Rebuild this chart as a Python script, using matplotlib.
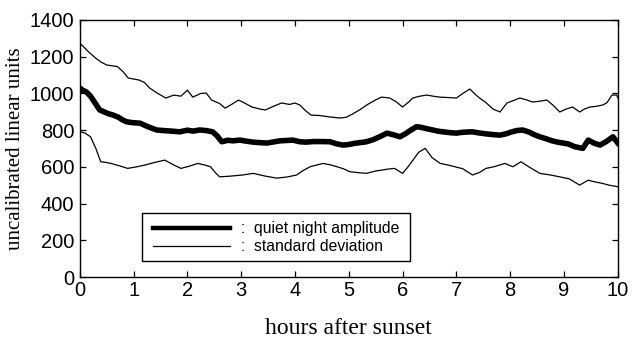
import matplotlib
matplotlib.use("Agg")
import matplotlib.pyplot as plt
from matplotlib.patches import Rectangle

# amplitude values (hours after sunset, uncalibrated units)
mean_hours = [0.0, 0.05, 0.12, 0.2, 0.28, 0.37, 0.45, 0.53, 0.62, 0.72, 0.8, 0.87, 0.95, 1.03,
              1.12, 1.22, 1.3, 1.43, 1.55, 1.7, 1.86, 2.0, 2.1, 2.23, 2.35, 2.47, 2.55, 2.64,
              2.75, 2.85, 2.97, 3.1, 3.22, 3.35, 3.48, 3.6, 3.72, 3.85, 3.96, 4.09, 4.2, 4.35,
              4.5, 4.65, 4.78, 4.89, 5.0, 5.1, 5.2, 5.33, 5.45, 5.58, 5.71, 5.83, 5.95, 6.05,
              6.15, 6.26, 6.35, 6.45, 6.56, 6.65, 6.78, 6.9, 7.0, 7.1, 7.2, 7.3, 7.42, 7.55,
              7.68, 7.81, 7.92, 8.02, 8.12, 8.23, 8.35, 8.45, 8.55, 8.65, 8.78, 8.88, 8.98,
              9.08, 9.2, 9.35, 9.45, 9.57, 9.67, 9.78, 9.91, 10.0]
mean_vals = [1030, 1018, 1009, 985, 950, 910, 900, 890, 882, 870, 855, 846, 842, 840,
             838, 825, 815, 801, 798, 795, 791, 800, 795, 801, 798, 791, 770, 737,
             745, 742, 746, 740, 735, 732, 730, 736, 742, 744, 746, 737, 735, 738,
             738, 737, 725, 719, 722, 728, 732, 737, 748, 765, 784, 775, 764, 780,
             800, 819, 815, 808, 801, 795, 790, 786, 784, 788, 790, 791, 785, 780,
             776, 773, 780, 790, 798, 801, 790, 775, 764, 755, 742, 735, 730,
             725, 710, 701, 746, 728, 719, 737, 764, 730]

upper_hours = [0.0, 0.05, 0.15, 0.3, 0.4, 0.5, 0.7, 0.8, 0.9, 1.1, 1.2, 1.3, 1.45, 1.6,
               1.75, 1.88, 2.0, 2.1, 2.25, 2.35, 2.45, 2.6, 2.7, 2.82, 2.95, 3.05, 3.2,
               3.35, 3.45, 3.6, 3.75, 3.9, 4.0, 4.09, 4.2, 4.3, 4.45, 4.65, 4.83, 4.95,
               5.05, 5.2, 5.35, 5.5, 5.61, 5.76, 5.88, 6.0, 6.1, 6.19, 6.32, 6.45, 6.57,
               6.69, 6.82, 7.0, 7.12, 7.25, 7.35, 7.43, 7.55, 7.68, 7.81, 7.94, 8.05, 8.18,
               8.3, 8.42, 8.55, 8.68, 8.8, 8.92, 9.04, 9.16, 9.29, 9.38, 9.48, 9.6, 9.72,
               9.8, 9.89, 9.98, 10.0]
upper_vals = [1273, 1260, 1230, 1191, 1170, 1155, 1146, 1120, 1084, 1073, 1060, 1029, 1000, 975,
              991, 985, 1018, 980, 1000, 1002, 964, 945, 920, 940, 964, 950, 926,
              915, 910, 930, 948, 940, 948, 937, 905, 882, 880, 872, 866, 870,
              885, 910, 940, 965, 980, 975, 955, 926, 950, 975, 985, 991, 985,
              980, 978, 975, 1000, 1024, 995, 975, 950, 915, 899, 948, 960, 975,
              965, 953, 958, 964, 935, 899, 915, 926, 899, 915, 926, 930, 937,
              950, 991, 991, 975]

lower_hours = [0.0, 0.02, 0.1, 0.2, 0.3, 0.39, 0.48, 0.58, 0.75, 0.89, 1.05, 1.21, 1.4,
               1.58, 1.75, 1.88, 2.05, 2.19, 2.3, 2.43, 2.53, 2.6, 2.8, 3.03, 3.22, 3.45,
               3.66, 3.85, 4.03, 4.15, 4.28, 4.4, 4.52, 4.65, 4.78, 4.9, 5.02, 5.2, 5.33,
               5.5, 5.62, 5.72, 5.85, 6.0, 6.1, 6.2, 6.3, 6.42, 6.55, 6.7, 6.85, 6.97, 7.12,
               7.3, 7.43, 7.55, 7.7, 7.9, 8.05, 8.2, 8.35, 8.55, 8.75, 8.92, 9.1, 9.29, 9.45,
               9.55, 9.72, 9.85, 10.0]
lower_vals = [801, 791, 784, 764, 700, 628, 625, 619, 605, 592, 600, 610, 625,
              637, 610, 592, 605, 619, 612, 601, 566, 546, 550, 556, 565, 550,
              539, 545, 556, 580, 601, 610, 619, 612, 601, 590, 574, 568, 565,
              578, 583, 588, 592, 565, 600, 640, 680, 701, 650, 619, 610, 601, 590,
              556, 570, 592, 601, 619, 601, 628, 600, 565, 556, 546, 535, 501, 528,
              520, 510, 500, 492]

plt.rcParams['font.family'] = ['Liberation Sans', 'DejaVu Sans']

fig = plt.figure(figsize=(6.33, 3.38), dpi=100)
ax = fig.add_axes([0.126, 0.180, 0.850, 0.761])

ax.plot(mean_hours, mean_vals, color='black', linewidth=4.0,
        label=':  quiet night amplitude')
ax.plot(upper_hours, upper_vals, color='black', linewidth=0.9,
        label=':  standard deviation')
ax.plot(lower_hours, lower_vals, color='black', linewidth=0.9)

ax.set_xlim(0, 10)
ax.set_ylim(0, 1400)
ax.set_xticks(range(0, 11))
ax.set_yticks(range(0, 1401, 200))
ax.tick_params(direction='in', top=True, right=True, length=4, width=0.9,
               labelsize=14.5)
ax.tick_params(axis='x', pad=3)
ax.tick_params(axis='y', pad=4)
for s in ax.spines.values():
    s.set_linewidth(1.0)

ax.set_xlabel('hours after sunset', family='Liberation Serif', fontsize=17, labelpad=13)
ax.set_ylabel('uncalibrated linear units', family='Liberation Serif', fontsize=15, labelpad=3)

# legend box drawn separately so the inner padding can match the original
ax.add_patch(Rectangle((0.1152, 0.0623), 0.498, 0.1868, transform=ax.transAxes,
                       facecolor='white', edgecolor='black', linewidth=1.0, zorder=4))
leg = ax.legend(loc='lower left', bbox_to_anchor=(0.1235, 0.062), borderaxespad=0,
                frameon=False, fontsize=11.3,
                handlelength=4.9, handletextpad=0.7, borderpad=0.45,
                labelspacing=0.2)
leg.set_zorder(5)
leg.get_lines()[0].set_linewidth(3.2)

fig.savefig('out.png', dpi=100)
